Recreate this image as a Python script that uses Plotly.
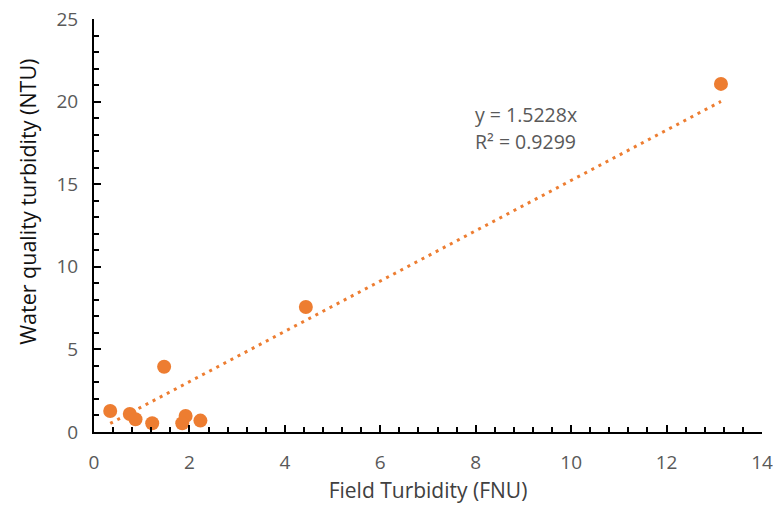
import plotly.graph_objects as go

field_fnu = [0.34, 0.75, 0.87, 1.47, 1.22, 1.92, 1.85, 2.23, 4.44, 13.14]
wq_ntu = [1.27, 1.09, 0.77, 3.95, 0.53, 0.97, 0.53, 0.69, 7.57, 21.07]
slope = 1.5228
r2 = 0.9299
x_ticks = [0, 2, 4, 6, 8, 10, 12, 14]
y_ticks = [0, 5, 10, 15, 20, 25]

orange = "#ED7D31"
gray = "#595959"
font_family = "Open Sans, Liberation Sans, sans-serif"

xmin, xmax = min(field_fnu), max(field_fnu)
trend_x = [xmin, xmax]
trend_y = [slope * v for v in trend_x]

fig = go.Figure()
fig.add_trace(go.Scatter(
    x=trend_x, y=trend_y, mode="lines",
    line=dict(color=orange, width=3, dash="3px,5px"),
    hoverinfo="skip", showlegend=False,
))
fig.add_trace(go.Scatter(
    x=field_fnu, y=wq_ntu, mode="markers",
    marker=dict(color=orange, size=14, line=dict(width=0)),
    showlegend=False,
))

fig.add_annotation(x=7.95, y=19.2, xref="x", yref="y", text=f"y = {slope}x",
                   showarrow=False, xanchor="left", yanchor="middle",
                   font=dict(family=font_family, size=19.5, color=gray))
fig.add_annotation(x=7.95, y=17.6, xref="x", yref="y", text=f"R² = {r2}",
                   showarrow=False, xanchor="left", yanchor="middle",
                   font=dict(family=font_family, size=19.5, color=gray))

# y-axis title as annotation (offset upward like the reference)
fig.add_annotation(x=-0.099, y=0.557, xref="paper", yref="paper",
                   text="Water quality turbidity (NTU)", textangle=-90,
                   showarrow=False, xanchor="center", yanchor="middle",
                   font=dict(family=font_family, size=21.5, color="#111111"))

axis_common = dict(
    showgrid=False, zeroline=False, showline=True, linecolor="black", linewidth=2,
    ticks="inside", ticklen=7, tickwidth=2, tickcolor="black",
    tickfont=dict(family=font_family, size=19, color=gray),
    automargin=False,
)

fig.update_xaxes(
    range=[0, 14], tickvals=x_ticks, ticktext=[str(v) for v in x_ticks],
    ticklabelstandoff=12,
    title=dict(text="Field Turbidity (FNU)", font=dict(family=font_family, size=21, color="#404040"), standoff=10),
    minor=dict(dtick=0.4, tick0=0, ticks="inside", ticklen=5, tickwidth=1.5, tickcolor="black"),
    **axis_common,
)
fig.update_yaxes(
    range=[0, 25], tickvals=y_ticks, ticktext=[str(v) for v in y_ticks],
    ticklabelstandoff=10,
    minor=dict(dtick=1, tick0=0, ticks="inside", ticklen=5, tickwidth=1.5, tickcolor="black"),
    **axis_common,
)

fig.update_layout(
    width=773, height=508,
    margin=dict(l=94, r=11, t=19, b=76),
    plot_bgcolor="white", paper_bgcolor="white",
)

fig.write_html("out.html")
